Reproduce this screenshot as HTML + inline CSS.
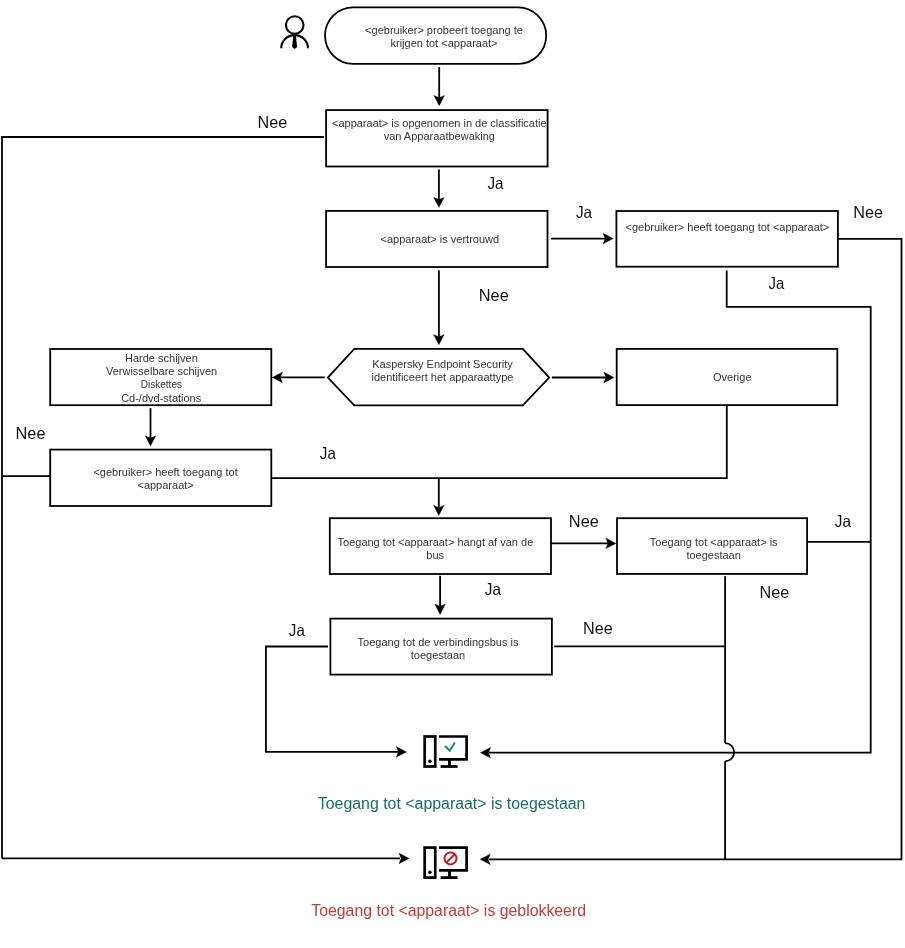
<!DOCTYPE html>
<html><head><meta charset="utf-8"><style>
html,body{margin:0;padding:0;background:#fff;width:905px;height:948px;overflow:hidden}
svg{display:block;will-change:transform;font-family:"Liberation Sans",sans-serif}
</style></head><body>
<svg width="905" height="948" viewBox="0 0 905 948">
<circle cx="294.7" cy="25.1" r="8.8" fill="none" stroke="#000" stroke-width="2.1"/>
<path d="M281.2,48.3 A13.4,13.2 0 0 1 308.0,48.3" fill="none" stroke="#000" stroke-width="2.1"/>
<path d="M293.4,34.8 L295.8,34.8 L297.1,47.0 L294.6,49.0 L292.1,47.0 Z" fill="#000"/>
<rect x="325.0" y="7.4" width="221.2" height="56.4" rx="28.2" ry="28.2" fill="#fff" stroke="#000" stroke-width="1.8"/>
<text x="444" y="34" font-size="11" fill="#333" text-anchor="middle" >&lt;gebruiker&gt; probeert toegang te</text>
<text x="444" y="47" font-size="11" fill="#333" text-anchor="middle" >krijgen tot &lt;apparaat&gt;</text>
<path d="M439.2,67.1 L439.2,97.7" fill="none" stroke="#000" stroke-width="1.8" stroke-linejoin="miter" stroke-linecap="butt"/>
<path d="M439.20,105.70 L433.80,95.40 L439.20,97.60 L444.60,95.40 Z" fill="#000" stroke="#000" stroke-width="0.3" stroke-linejoin="miter"/>
<rect x="326.1" y="110.1" width="221.5" height="56.400000000000006" fill="#fff" stroke="#000" stroke-width="1.8"/>
<text x="439.3" y="127.2" font-size="11" fill="#333" text-anchor="middle" >&lt;apparaat&gt; is opgenomen in de classificatie</text>
<text x="439.3" y="139.7" font-size="11" fill="#333" text-anchor="middle" >van Apparaatbewaking</text>
<path d="M323.9,137.0 L2,137.0 L2,858.4" fill="none" stroke="#000" stroke-width="1.8" stroke-linejoin="miter" stroke-linecap="butt"/>
<text x="257.47" y="127.8" font-size="16.5" fill="#111" textLength="29.75" lengthAdjust="spacingAndGlyphs">Nee</text>
<path d="M438.9,169.5 L438.9,199.6" fill="none" stroke="#000" stroke-width="1.8" stroke-linejoin="miter" stroke-linecap="butt"/>
<path d="M438.90,207.60 L433.50,197.30 L438.90,199.50 L444.30,197.30 Z" fill="#000" stroke="#000" stroke-width="0.3" stroke-linejoin="miter"/>
<text x="487.46" y="188.7" font-size="16.5" fill="#111" textLength="16.14" lengthAdjust="spacingAndGlyphs">Ja</text>
<rect x="326.1" y="210.9" width="221.39999999999998" height="56.099999999999994" fill="#fff" stroke="#000" stroke-width="1.8"/>
<text x="439.8" y="243.3" font-size="11" fill="#333" text-anchor="middle" >&lt;apparaat&gt; is vertrouwd</text>
<path d="M551,238.6 L605.3,238.6" fill="none" stroke="#000" stroke-width="1.8" stroke-linejoin="miter" stroke-linecap="butt"/>
<path d="M613.30,238.60 L603.00,233.20 L605.20,238.60 L603.00,244.00 Z" fill="#000" stroke="#000" stroke-width="0.3" stroke-linejoin="miter"/>
<text x="575.96" y="217.7" font-size="16.5" fill="#111" textLength="16.14" lengthAdjust="spacingAndGlyphs">Ja</text>
<rect x="616.4" y="211.0" width="221.5" height="55.69999999999999" fill="#fff" stroke="#000" stroke-width="1.8"/>
<text x="727.4" y="230.9" font-size="11" fill="#333" text-anchor="middle" >&lt;gebruiker&gt; heeft toegang tot &lt;apparaat&gt;</text>
<path d="M837.9,238.9 L901.5,238.9 L901.5,859.3 L489,859.3" fill="none" stroke="#000" stroke-width="1.8" stroke-linejoin="miter" stroke-linecap="butt"/>
<path d="M480.10,859.30 L490.40,853.90 L488.20,859.30 L490.40,864.70 Z" fill="#000" stroke="#000" stroke-width="0.3" stroke-linejoin="miter"/>
<text x="853.37" y="218.0" font-size="16.5" fill="#111" textLength="29.75" lengthAdjust="spacingAndGlyphs">Nee</text>
<path d="M726.7,270.4 L726.7,306.8 L870.7,306.8 L870.7,752.7 L489,752.7" fill="none" stroke="#000" stroke-width="1.8" stroke-linejoin="miter" stroke-linecap="butt"/>
<path d="M480.40,752.70 L490.70,747.30 L488.50,752.70 L490.70,758.10 Z" fill="#000" stroke="#000" stroke-width="0.3" stroke-linejoin="miter"/>
<text x="768.57" y="289.0" font-size="16.5" fill="#111" textLength="15.73" lengthAdjust="spacingAndGlyphs">Ja</text>
<path d="M438.9,270.2 L438.9,336.8" fill="none" stroke="#000" stroke-width="1.8" stroke-linejoin="miter" stroke-linecap="butt"/>
<path d="M438.90,344.80 L433.50,334.50 L438.90,336.70 L444.30,334.50 Z" fill="#000" stroke="#000" stroke-width="0.3" stroke-linejoin="miter"/>
<text x="478.76" y="300.9" font-size="16.5" fill="#111" textLength="29.97" lengthAdjust="spacingAndGlyphs">Nee</text>
<path d="M327.8,377.6 L354.3,348.8 L522.8,348.8 L549.2,377.6 L522.8,405.3 L354.3,405.3 Z" fill="#fff" stroke="#000" stroke-width="1.8"/>
<text x="442.5" y="368.4" font-size="11" fill="#333" text-anchor="middle" >Kaspersky Endpoint Security</text>
<text x="442.5" y="381.2" font-size="11" fill="#333" text-anchor="middle" >identificeert het apparaattype</text>
<path d="M324.8,377.4 L280.2,377.4" fill="none" stroke="#000" stroke-width="1.8" stroke-linejoin="miter" stroke-linecap="butt"/>
<path d="M272.20,377.40 L282.50,372.00 L280.30,377.40 L282.50,382.80 Z" fill="#000" stroke="#000" stroke-width="0.3" stroke-linejoin="miter"/>
<path d="M551.9,377.5 L606.1,377.5" fill="none" stroke="#000" stroke-width="1.8" stroke-linejoin="miter" stroke-linecap="butt"/>
<path d="M614.10,377.50 L603.80,372.10 L606.00,377.50 L603.80,382.90 Z" fill="#000" stroke="#000" stroke-width="0.3" stroke-linejoin="miter"/>
<rect x="50.2" y="349.0" width="221.10000000000002" height="56.19999999999999" fill="#fff" stroke="#000" stroke-width="1.8"/>
<text x="161.4" y="361.6" font-size="11" fill="#333" text-anchor="middle" >Harde schijven</text>
<text x="161.6" y="375.1" font-size="11" fill="#333" text-anchor="middle" >Verwisselbare schijven</text>
<text x="161.4" y="387.5" font-size="10" fill="#333" text-anchor="middle" >Diskettes</text>
<text x="161.2" y="401.7" font-size="11" fill="#333" text-anchor="middle" >Cd-/dvd-stations</text>
<rect x="616.7" y="348.9" width="220.5999999999999" height="56.200000000000045" fill="#fff" stroke="#000" stroke-width="1.8"/>
<text x="732.3" y="380.9" font-size="11" fill="#333" text-anchor="middle" >Overige</text>
<path d="M150.5,408.1 L150.5,438.1" fill="none" stroke="#000" stroke-width="1.8" stroke-linejoin="miter" stroke-linecap="butt"/>
<path d="M150.50,446.10 L145.10,435.80 L150.50,438.00 L155.90,435.80 Z" fill="#000" stroke="#000" stroke-width="0.3" stroke-linejoin="miter"/>
<rect x="50.2" y="449.6" width="221.10000000000002" height="56.39999999999998" fill="#fff" stroke="#000" stroke-width="1.8"/>
<text x="165.6" y="475.9" font-size="11" fill="#333" text-anchor="middle" >&lt;gebruiker&gt; heeft toegang tot</text>
<text x="165.6" y="488.5" font-size="11" fill="#333" text-anchor="middle" >&lt;apparaat&gt;</text>
<text x="15.56" y="439.2" font-size="16.5" fill="#111" textLength="29.97" lengthAdjust="spacingAndGlyphs">Nee</text>
<path d="M2,476.2 L50.2,476.2" fill="none" stroke="#000" stroke-width="1.8" stroke-linejoin="miter" stroke-linecap="butt"/>
<path d="M271.3,478.1 L726.8,478.1 L726.8,405.1" fill="none" stroke="#000" stroke-width="1.8" stroke-linejoin="miter" stroke-linecap="butt"/>
<path d="M438.8,478.1 L438.8,507.5" fill="none" stroke="#000" stroke-width="1.8" stroke-linejoin="miter" stroke-linecap="butt"/>
<path d="M438.80,515.50 L433.40,505.20 L438.80,507.40 L444.20,505.20 Z" fill="#000" stroke="#000" stroke-width="0.3" stroke-linejoin="miter"/>
<text x="319.86" y="458.9" font-size="16.5" fill="#111" textLength="16.04" lengthAdjust="spacingAndGlyphs">Ja</text>
<rect x="329.8" y="518.2" width="221.2" height="55.799999999999955" fill="#fff" stroke="#000" stroke-width="1.8"/>
<text x="435.4" y="545.9" font-size="11" fill="#333" text-anchor="middle" >Toegang tot &lt;apparaat&gt; hangt af van de</text>
<text x="435.2" y="559" font-size="11" fill="#333" text-anchor="middle" >bus</text>
<path d="M551.0,543.4 L608,543.4" fill="none" stroke="#000" stroke-width="1.8" stroke-linejoin="miter" stroke-linecap="butt"/>
<path d="M616.00,543.40 L605.70,538.00 L607.90,543.40 L605.70,548.80 Z" fill="#000" stroke="#000" stroke-width="0.3" stroke-linejoin="miter"/>
<text x="568.86" y="526.7" font-size="16.5" fill="#111" textLength="29.97" lengthAdjust="spacingAndGlyphs">Nee</text>
<rect x="617.0" y="518.2" width="190.10000000000002" height="55.69999999999993" fill="#fff" stroke="#000" stroke-width="1.8"/>
<text x="713.7" y="545.6" font-size="11" fill="#333" text-anchor="middle" >Toegang tot &lt;apparaat&gt; is</text>
<text x="713.6" y="558.8" font-size="11" fill="#333" text-anchor="middle" >toegestaan</text>
<path d="M807.1,541.9 L870.7,541.9" fill="none" stroke="#000" stroke-width="1.8" stroke-linejoin="miter" stroke-linecap="butt"/>
<text x="834.76" y="526.9" font-size="16.5" fill="#111" textLength="16.14" lengthAdjust="spacingAndGlyphs">Ja</text>
<path d="M725.1,576.3 L725.1,743.1" fill="none" stroke="#000" stroke-width="1.8" stroke-linejoin="miter" stroke-linecap="butt"/>
<path d="M725.1,743.1 A9.1,9.1 0 0 1 725.1,761.3" fill="none" stroke="#000" stroke-width="1.8"/>
<path d="M725.1,761.3 L725.1,859.3" fill="none" stroke="#000" stroke-width="1.8" stroke-linejoin="miter" stroke-linecap="butt"/>
<text x="759.57" y="598.2" font-size="16.5" fill="#111" textLength="29.75" lengthAdjust="spacingAndGlyphs">Nee</text>
<path d="M440.1,575.8 L440.1,606.4" fill="none" stroke="#000" stroke-width="1.8" stroke-linejoin="miter" stroke-linecap="butt"/>
<path d="M440.10,614.40 L434.70,604.10 L440.10,606.30 L445.50,604.10 Z" fill="#000" stroke="#000" stroke-width="0.3" stroke-linejoin="miter"/>
<text x="484.76" y="594.7" font-size="16.5" fill="#111" textLength="16.14" lengthAdjust="spacingAndGlyphs">Ja</text>
<rect x="330.4" y="618.6" width="221.5" height="56.0" fill="#fff" stroke="#000" stroke-width="1.8"/>
<text x="438" y="646.2" font-size="11" fill="#333" text-anchor="middle" >Toegang tot de verbindingsbus is</text>
<text x="438" y="659.3" font-size="11" fill="#333" text-anchor="middle" >toegestaan</text>
<text x="288.86" y="635.9" font-size="16.5" fill="#111" textLength="15.94" lengthAdjust="spacingAndGlyphs">Ja</text>
<path d="M328,646.5 L265.9,646.5 L265.9,751.9 L398,751.9" fill="none" stroke="#000" stroke-width="1.8" stroke-linejoin="miter" stroke-linecap="butt"/>
<path d="M406.50,751.90 L396.20,746.50 L398.40,751.90 L396.20,757.30 Z" fill="#000" stroke="#000" stroke-width="0.3" stroke-linejoin="miter"/>
<text x="583.07" y="634.1" font-size="16.5" fill="#111" textLength="29.64" lengthAdjust="spacingAndGlyphs">Nee</text>
<path d="M554.2,646.4 L725.1,646.4" fill="none" stroke="#000" stroke-width="1.8" stroke-linejoin="miter" stroke-linecap="butt"/>
<path d="M2,858.4 L400,858.4" fill="none" stroke="#000" stroke-width="1.8" stroke-linejoin="miter" stroke-linecap="butt"/>
<path d="M409.20,858.40 L398.90,853.00 L401.10,858.40 L398.90,863.80 Z" fill="#000" stroke="#000" stroke-width="0.3" stroke-linejoin="miter"/>
<g transform="translate(0,0)"><rect x="424.65" y="736.5" width="10.6" height="30" fill="none" stroke="#000" stroke-width="2.7"/><circle cx="429.9" cy="761.2" r="1.75" fill="#000"/><path d="M439,736.5 L466.6,736.5 L466.6,759.3 L439,759.3" fill="none" stroke="#000" stroke-width="2.7"/><rect x="448" y="759" width="3" height="7" fill="#000"/><rect x="440.6" y="765.1" width="17" height="2.8" fill="#000"/><path d="M445.5,746.6 L449.7,750.8 L454.4,743.2" fill="none" stroke="#14916e" stroke-width="2.1" stroke-linecap="round" stroke-linejoin="round"/></g>
<g transform="translate(0,111.1)"><rect x="424.65" y="736.5" width="10.6" height="30" fill="none" stroke="#000" stroke-width="2.7"/><circle cx="429.9" cy="761.2" r="1.75" fill="#000"/><path d="M439,736.5 L466.6,736.5 L466.6,759.3 L439,759.3" fill="none" stroke="#000" stroke-width="2.7"/><rect x="448" y="759" width="3" height="7" fill="#000"/><rect x="440.6" y="765.1" width="17" height="2.8" fill="#000"/><circle cx="450.5" cy="747.3" r="6" fill="none" stroke="#c5151c" stroke-width="2"/><path d="M454.7,743.1 L446.3,751.5" stroke="#c5151c" stroke-width="2"/></g>
<text x="317.85" y="809.2" font-size="16" fill="#1a6e5c" textLength="267.58" lengthAdjust="spacingAndGlyphs">Toegang tot &lt;apparaat&gt; is toegestaan</text>
<text x="311.25" y="915.8" font-size="16" fill="#c23c37" textLength="274.77" lengthAdjust="spacingAndGlyphs">Toegang tot &lt;apparaat&gt; is geblokkeerd</text>
</svg>
</body></html>
